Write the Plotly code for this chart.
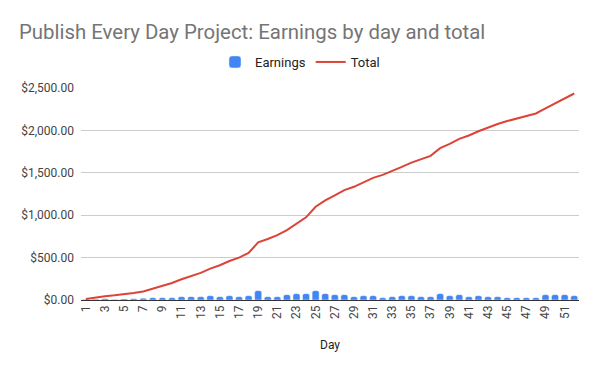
import plotly.graph_objects as go

days = [1, 2, 3, 4, 5, 6, 7, 8, 9, 10, 11, 12, 13, 14, 15, 16, 17, 18, 19, 20,
        21, 22, 23, 24, 25, 26, 27, 28, 29, 30, 31, 32, 33, 34, 35, 36, 37, 38, 39, 40,
        41, 42, 43, 44, 45, 46, 47, 48, 49, 50, 51, 52]

earnings = [5, 8, 15, 5, 12, 15, 20, 28, 28, 28, 39, 39, 39, 51, 39, 51, 39, 51, 110, 39,
            39, 63, 75, 75, 110, 75, 63, 63, 39, 51, 51, 28, 39, 51, 51, 39, 39, 75, 51, 63,
            39, 51, 39, 39, 28, 28, 28, 28, 63, 63, 63, 51]

total = [12, 30, 45, 55, 65, 82, 100, 135, 165, 200, 245, 285, 320, 370, 410, 460, 500, 555, 680, 720,
         765, 825, 900, 975, 1100, 1175, 1235, 1295, 1335, 1385, 1440, 1475, 1520, 1570, 1620, 1660, 1700, 1790, 1840, 1900,
         1940, 1990, 2035, 2075, 2110, 2140, 2165, 2200, 2260, 2320, 2380, 2435]

x_tick_vals = [1, 3, 5, 7, 9, 11, 13, 15, 17, 19, 21, 23, 25, 27, 29, 31, 33, 35, 37, 39,
               41, 43, 45, 47, 49, 51]
y_tick_vals = [0, 500, 1000, 1500, 2000, 2500]
y_tick_text = ["$0.00", "$500.00", "$1,000.00", "$1,500.00", "$2,000.00", "$2,500.00"]

fig = go.Figure()
fig.add_trace(go.Bar(x=days, y=earnings, name="Earnings", marker_color="#4285F4"))
fig.add_trace(go.Scatter(x=days, y=total, name="Total", mode="lines",
                         line=dict(color="#DB4437", width=2)))

fig.update_layout(
    width=600, height=371,
    margin=dict(l=81, r=21, t=88, b=71, autoexpand=False),
    paper_bgcolor="white", plot_bgcolor="white",
    font=dict(family="Roboto, Arial, sans-serif", size=12, color="#444444"),
    title=dict(text="Publish Every Day Project: Earnings by day and total",
               x=19 / 600, xanchor="left", xref="container",
               y=1 - 32 / 371, yanchor="middle", yref="container",
               font=dict(family="Roboto, Arial, sans-serif", size=20.4, color="#757575")),
    legend=dict(orientation="h", x=0.5, xanchor="center", xref="container",
                y=1 - 62 / 371, yanchor="middle", yref="container",
                font=dict(size=13, color="#222222"), itemwidth=30),
    bargap=0.27,
    barcornerradius=2,
    showlegend=True,
)

fig.update_xaxes(range=[0.5, 52.5], tickmode="array", tickvals=x_tick_vals,
                 ticktext=[str(v) for v in x_tick_vals], tickangle=-90,
                 showgrid=False, zeroline=False, showline=False,
                 title=dict(text="Day", font=dict(size=12, color="#222222"), standoff=22),
                 tickfont=dict(size=12, color="#444444"), ticklabelstandoff=2)
fig.update_yaxes(range=[0, 2500], tickmode="array", tickvals=y_tick_vals,
                 ticktext=y_tick_text, showgrid=True, gridcolor="#CCCCCC", gridwidth=1,
                 zeroline=True, zerolinecolor="#333333", zerolinewidth=1,
                 tickfont=dict(size=12, color="#444444"), ticklabelstandoff=6)

fig.write_html("out.html")
